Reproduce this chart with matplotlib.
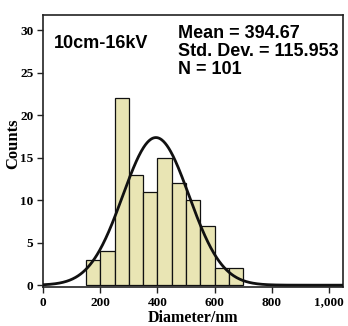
import numpy as np
import matplotlib.pyplot as plt

# histogram bins (nm) and counts
bin_edges = [150, 200, 250, 300, 350, 400, 450, 500, 550, 600, 650, 700]
counts = [3, 4, 22, 13, 11, 15, 12, 10, 7, 2, 2]
mean = 394.67
std = 115.953
n = 101
bin_width = 50

x_ticks = [0, 200, 400, 600, 800, 1000]
x_labels = ["0", "200", "400", "600", "800", "1,000"]
y_ticks = [0, 5, 10, 15, 20, 25, 30]

fig = plt.figure(figsize=(3.48, 3.26), dpi=100)
ax = fig.add_axes([0.124, 0.12, 0.862, 0.834])

ax.bar(bin_edges[:-1], counts, width=bin_width, align="edge",
       color="#e9e5b4", edgecolor="#111111", linewidth=0.9, zorder=2)

# fitted normal curve scaled to counts
xs = np.linspace(0, 1050, 500)
pdf = np.exp(-0.5 * ((xs - mean) / std) ** 2) / (std * np.sqrt(2 * np.pi))
ax.plot(xs, pdf * n * bin_width, color="#111111", linewidth=2.0, zorder=3)

ax.set_xlim(0, 1050)
ax.set_ylim(-0.2, 31.8)
ax.set_xticks(x_ticks)
ax.set_xticklabels(x_labels)
ax.set_yticks(y_ticks)

for lbl in ax.get_xticklabels() + ax.get_yticklabels():
    lbl.set_fontfamily("Liberation Serif")
    lbl.set_fontweight("bold")
    lbl.set_fontsize(9.5)
ax.tick_params(direction="out", length=4, width=1, color="#222222", pad=3)

for sp in ax.spines.values():
    sp.set_linewidth(1.2)
    sp.set_color("#222222")

ax.set_xlabel("Diameter/nm", family="Liberation Serif", weight="bold",
              fontsize=11.5, labelpad=1)
ax.set_ylabel("Counts", family="Liberation Serif", weight="bold",
              fontsize=12)
ax.yaxis.set_label_coords(-0.072, 0.526)

ax.text(0.035, 0.895, "10cm-16kV", transform=ax.transAxes,
        family="Liberation Sans", weight="bold", fontsize=13, va="center")
ax.text(0.45, 0.965, "Mean = 394.67\nStd. Dev. = 115.953\nN = 101",
        transform=ax.transAxes, family="Liberation Sans", fontsize=13,
        weight="bold", va="top", linespacing=1.08)

fig.savefig("out.png", dpi=100)
